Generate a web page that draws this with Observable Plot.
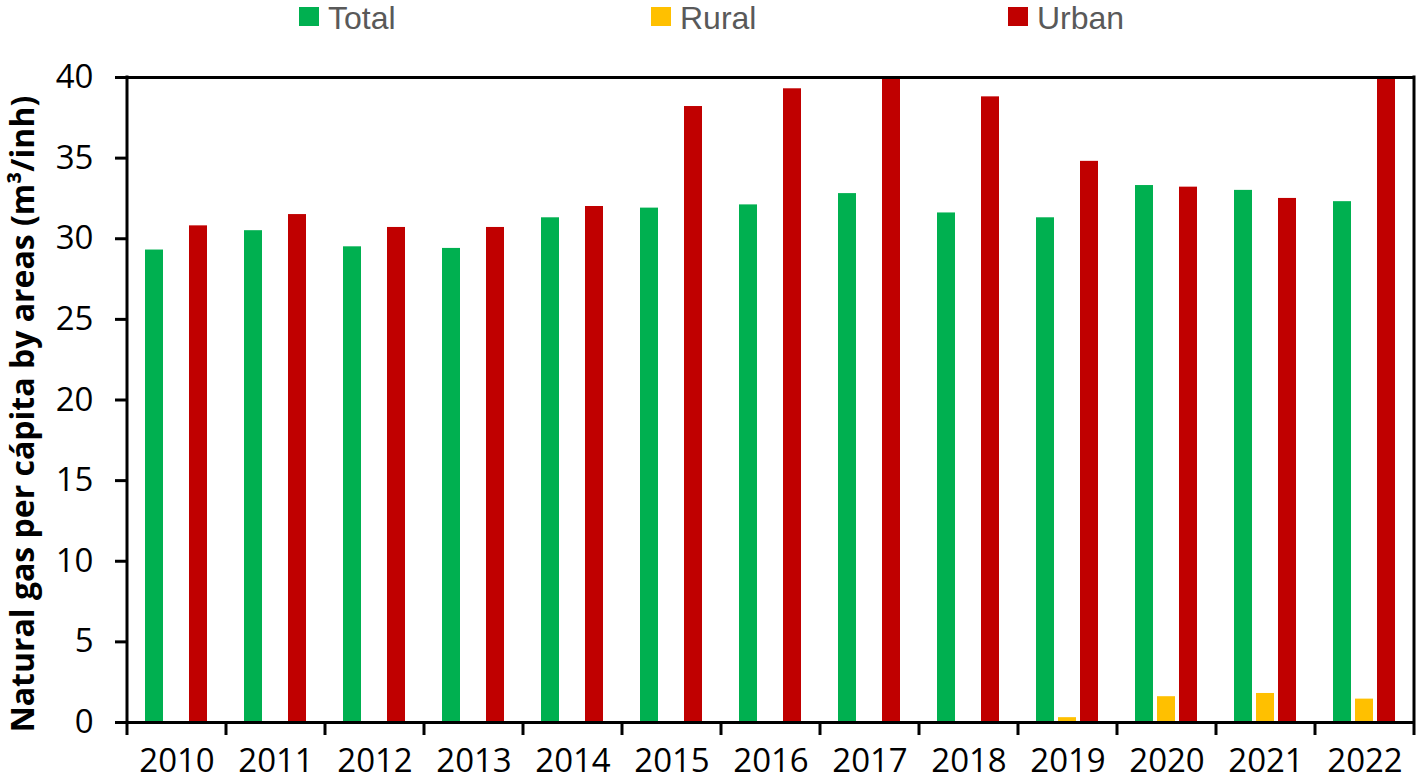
<!DOCTYPE html>
<html>
<head>
<meta charset="utf-8">
<script src="https://cdn.jsdelivr.net/npm/d3@7"></script>
<script src="https://cdn.jsdelivr.net/npm/@observablehq/plot@0.6"></script>
<style>
  html, body { margin: 0; padding: 0; background: #fff; overflow: hidden; }
  #legend { position: relative; height: 36px; width: 1421px; font-family: "Liberation Sans", Arial, sans-serif; font-size: 32px; line-height: 36px; color: #595959; }
  .item { position: absolute; top: 0; height: 36px; }
  .sw { position: absolute; top: 7px; left: 0; width: 20px; height: 19px; }
  .lb { position: absolute; left: 29px; top: 0; white-space: nowrap; }
  #chart svg { display: block; }
</style>
</head>
<body>
<div id="legend"></div>
<div id="chart"></div>
<script>
const years = [2010, 2011, 2012, 2013, 2014, 2015, 2016, 2017, 2018, 2019, 2020, 2021, 2022];
const seriesNames = ["Total", "Rural", "Urban"];
const seriesColors = ["#00B050", "#FFC000", "#C00000"];
const totalValues = [29.3, 30.5, 29.5, 29.4, 31.3, 31.9, 32.1, 32.8, 31.6, 31.3, 33.3, 33.0, 32.3];
const ruralValues = [null, null, null, null, null, null, null, null, null, 0.3, 1.6, 1.8, 1.45];
const urbanValues = [30.8, 31.5, 30.7, 30.7, 32.0, 38.2, 39.3, 40, 38.8, 34.8, 33.2, 32.5, 40];
const yTicks = [0, 5, 10, 15, 20, 25, 30, 35, 40];
const yLabel = "Natural gas per cápita by areas (m³/inh)";

const valuesBySeries = {Total: totalValues, Rural: ruralValues, Urban: urbanValues};
const data = [];
years.forEach((yr, i) => {
  seriesNames.forEach(s => {
    const v = valuesBySeries[s][i];
    if (v != null) data.push({year: yr, series: s, value: v});
  });
});

// Legend (HTML, above the SVG)
const legendLefts = [299, 651, 1008];
const legend = d3.select("#legend");
seriesNames.forEach((s, i) => {
  const it = legend.append("div").attr("class", "item").style("left", legendLefts[i] + "px");
  it.append("div").attr("class", "sw").style("background", seriesColors[i]);
  it.append("div").attr("class", "lb").text(s);
});

const W = 1421, H = 747;
const chart = Plot.plot({
  width: W,
  height: H,
  marginLeft: 125,
  marginRight: 6,
  marginTop: 41,
  marginBottom: 61,
  style: {fontFamily: "Open Sans, sans-serif", fontSize: "33px", color: "black", background: "white", overflow: "visible"},
  fx: {domain: years, padding: 0, label: null},
  x: {domain: seriesNames, paddingInner: 0.18, paddingOuter: 0.84, axis: null},
  y: {domain: [0, 40], label: null},
  color: {domain: seriesNames, range: seriesColors},
  marks: [
    Plot.barY(data, {fx: "year", x: "series", y: "value", fill: "series"}),
    Plot.ruleY([0], {stroke: "black", strokeWidth: 3}),
    Plot.ruleY([40], {stroke: "black", strokeWidth: 3}),
    Plot.axisY(yTicks, {tickSize: 12, tickPadding: 22, strokeWidth: 3, label: null, fontSize: 33}),
    Plot.axisFx({anchor: "bottom", tickSize: 0, tickPadding: 26, label: null, fontSize: 33, tickFormat: d => String(d)}),
    Plot.text([yLabel], {fx: [years[0]], text: d => d, frameAnchor: "left", rotate: -90, dx: -104, dy: 14,
      fontWeight: "bold", fontSize: 32, textAnchor: "middle", lineAnchor: "middle", fill: "black"})
  ]
});
document.getElementById("chart").appendChild(chart);

// Frame sides and category boundary ticks, from the library's scales
const fxS = chart.scale("fx");
const yS = chart.scale("y");
const y0 = yS.apply(0), y40 = yS.apply(40);
const bounds = years.map(yr => fxS.apply(yr));
bounds.push(bounds[bounds.length - 1] + fxS.bandwidth);
const g = d3.select(chart).append("g").attr("stroke", "black").attr("stroke-width", 3);
bounds.forEach((b, i) => {
  const edge = i === 0 || i === bounds.length - 1;
  g.append("line").attr("x1", b).attr("x2", b).attr("y1", edge ? y40 - 1.5 : y0).attr("y2", y0 + 13);
});
</script>
</body>
</html>
